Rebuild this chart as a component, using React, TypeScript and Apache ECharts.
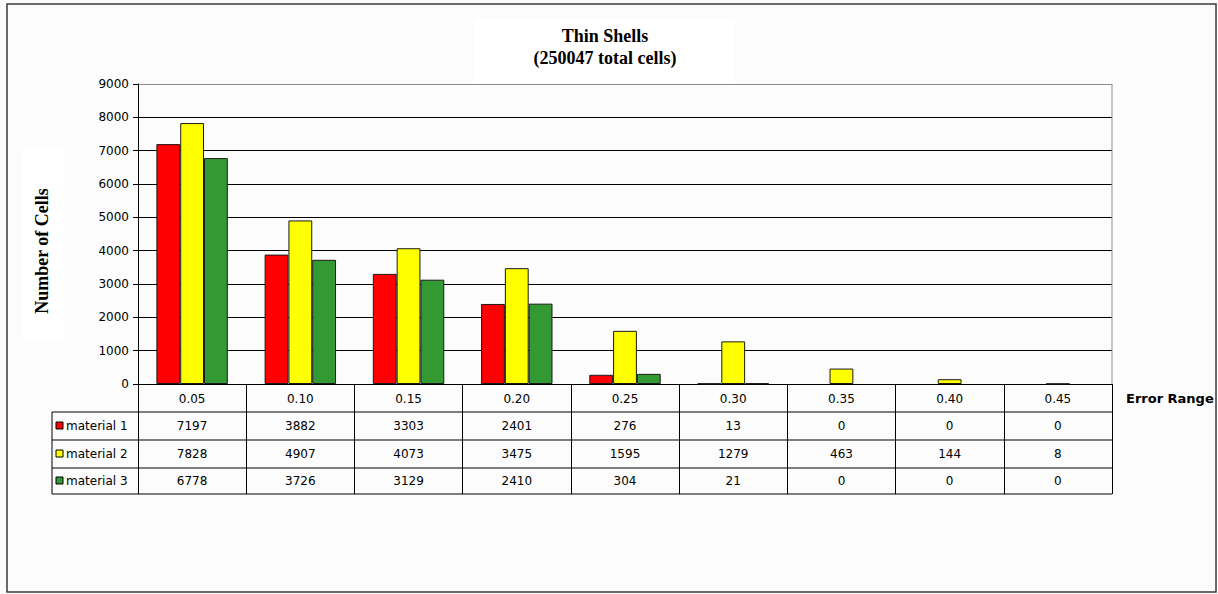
import React, { useEffect, useRef } from "react";
import * as echarts from "echarts";

const categories = ["0.05", "0.10", "0.15", "0.20", "0.25", "0.30", "0.35", "0.40", "0.45"];
const seriesNames = ["material 1", "material 2", "material 3"];
const material1 = [7197, 3882, 3303, 2401, 276, 13, 0, 0, 0];
const material2 = [7828, 4907, 4073, 3475, 1595, 1279, 463, 144, 8];
const material3 = [6778, 3726, 3129, 2410, 304, 21, 0, 0, 0];
const colors = ["#ff0000", "#ffff00", "#339933"];
const yTicks = [0, 1000, 2000, 3000, 4000, 5000, 6000, 7000, 8000, 9000];

const W = 1218;
const H = 594;
const GRID = { left: 138, right: W - 1112, top: 84, bottom: H - 384 };
const ROW_LINES = [412, 440, 468, 494];
const TABLE_LEFT = 52;
const SANS = "'DejaVu Sans', Verdana, sans-serif";
const SERIF = "'Liberation Serif', 'Times New Roman', serif";

export default function App() {
  const ref = useRef<HTMLDivElement>(null);

  useEffect(() => {
    if (!ref.current) return;
    const chart = echarts.init(ref.current, null, { renderer: "svg" });
    const data = [material1, material2, material3];
    const gridColors = yTicks.map((v) => (v === 9000 ? "#8c8c8c" : "#000000"));

    const option: any = {
      animation: false,
      backgroundColor: "#fbfcfb",
      grid: { ...GRID, containLabel: false, show: false },
      xAxis: {
        type: "category",
        data: categories,
        axisLine: { show: true, lineStyle: { color: "#000", width: 1 } },
        axisTick: { show: true, length: 110, inside: false, lineStyle: { color: "#000", width: 1 } },
        axisLabel: { color: "#000", fontFamily: SANS, fontSize: 12, margin: 9 },
        splitLine: { show: false },
      },
      yAxis: {
        type: "value",
        min: 0,
        max: 9000,
        interval: 1000,
        axisLine: { show: true, lineStyle: { color: "#000", width: 1 } },
        axisTick: { show: true, length: 5, lineStyle: { color: "#000" } },
        axisLabel: {
          color: "#000",
          fontFamily: SANS,
          fontSize: 12,
          margin: 9,
          formatter: (v: number) => String(v),
        },
        splitLine: { show: true, lineStyle: { color: gridColors, width: 1 } },
      },
      series: data.map((d, i) => ({
        type: "bar",
        name: seriesNames[i],
        data: d.map((v) => (v === 0 ? { value: v, itemStyle: { borderWidth: 0, opacity: 0 } } : v)),
        barGap: "0%",
        barCategoryGap: "34%",
        itemStyle: { color: colors[i], borderColor: "#1a1a1a", borderWidth: 1 },
      })),
    };
    chart.setOption(option);

    const graphics: any[] = [];
    graphics.push({
      type: "rect",
      shape: { x: 7, y: 4, width: 1209, height: 588 },
      style: { fill: null, stroke: "#3a3a3a", lineWidth: 1.5 },
      silent: true,
      z: 0,
    });
    const xRight = W - GRID.right;
    graphics.push({
      type: "line",
      shape: { x1: xRight, y1: GRID.top, x2: xRight, y2: H - GRID.bottom },
      style: { stroke: "#8c8c8c", lineWidth: 1 },
      z: 5,
    });
    graphics.push({
      type: "rect",
      shape: { x: 475, y: 18, width: 260, height: 65 },
      style: { fill: "#ffffff" },
      z: 1,
    });
    graphics.push({
      type: "text",
      x: 605,
      y: 47,
      style: {
        text: "Thin Shells\n(250047 total cells)",
        font: `bold 18px ${SERIF}`,
        fill: "#000",
        align: "center",
        verticalAlign: "middle",
        lineHeight: 22,
      },
      z: 2,
    });
    graphics.push({
      type: "rect",
      shape: { x: 22, y: 148, width: 42, height: 192 },
      style: { fill: "#ffffff" },
      z: 1,
    });
    graphics.push({
      type: "text",
      x: 42,
      y: 251,
      rotation: Math.PI / 2,
      style: {
        text: "Number of Cells",
        font: `bold 18px ${SERIF}`,
        fill: "#000",
        align: "center",
        verticalAlign: "middle",
      },
      z: 2,
    });
    graphics.push({
      type: "text",
      x: 1126,
      y: 398,
      style: {
        text: "Error Range",
        font: `bold 13px ${SANS}`,
        fill: "#000",
        align: "left",
        verticalAlign: "middle",
      },
      z: 2,
    });
    ROW_LINES.forEach((y) => {
      graphics.push({
        type: "line",
        shape: { x1: TABLE_LEFT, y1: y, x2: xRight, y2: y },
        style: { stroke: "#000", lineWidth: 1 },
        z: 5,
      });
    });
    graphics.push({
      type: "line",
      shape: { x1: TABLE_LEFT, y1: ROW_LINES[0], x2: TABLE_LEFT, y2: ROW_LINES[3] },
      style: { stroke: "#000", lineWidth: 1 },
      z: 5,
    });
    data.forEach((d, r) => {
      const yc = (ROW_LINES[r] + ROW_LINES[r + 1]) / 2;
      graphics.push({
        type: "rect",
        shape: { x: 56, y: yc - 4, width: 7, height: 7 },
        style: { fill: colors[r], stroke: "#000", lineWidth: 1 },
        z: 6,
      });
      graphics.push({
        type: "text",
        x: 66,
        y: yc,
        style: {
          text: seriesNames[r],
          font: `12px ${SANS}`,
          fill: "#000",
          align: "left",
          verticalAlign: "middle",
        },
        z: 6,
      });
      d.forEach((v, c) => {
        const px = chart.convertToPixel({ xAxisIndex: 0 }, categories[c]) as number;
        graphics.push({
          type: "text",
          x: px,
          y: yc,
          style: {
            text: String(v),
            font: `12px ${SANS}`,
            fill: "#000",
            align: "center",
            verticalAlign: "middle",
          },
          z: 6,
        });
      });
    });
    chart.setOption({ graphic: graphics });

    return () => chart.dispose();
  }, []);

  return (
    <div
      ref={ref}
      style={{ position: "fixed", left: 0, top: 0, width: W, height: H }}
    />
  );
}
